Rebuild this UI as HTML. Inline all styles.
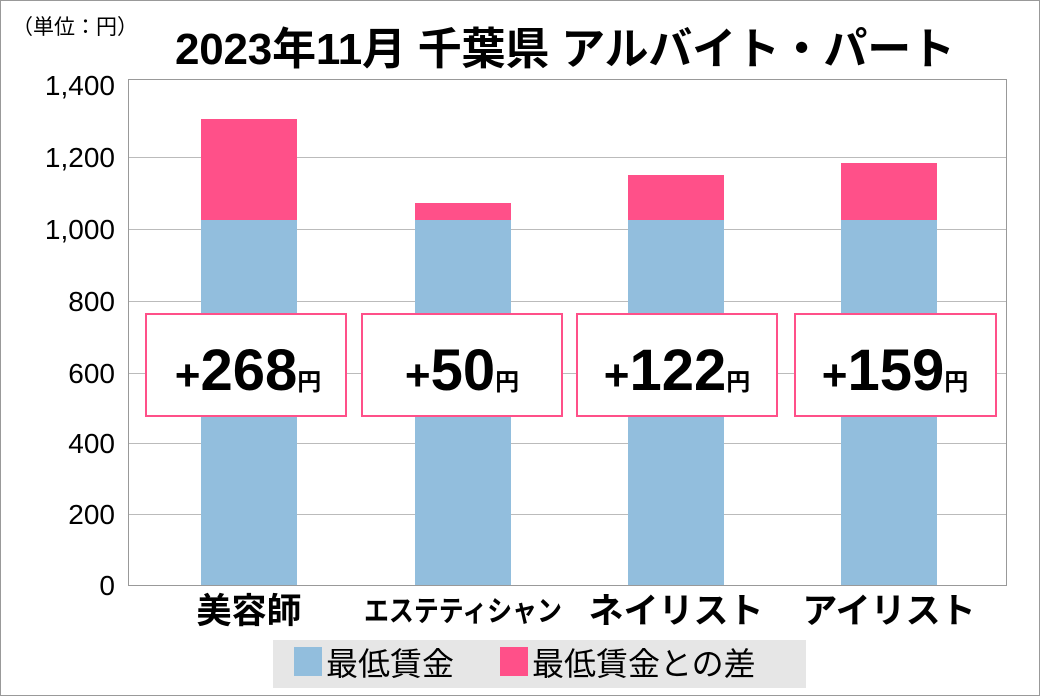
<!DOCTYPE html>
<html><head><meta charset="utf-8"><style>
html,body{margin:0;padding:0;background:#fff}
svg{display:block}
text{font-family:"Liberation Sans","Noto Sans CJK JP",sans-serif}
</style></head><body>
<svg width="1040" height="696" viewBox="0 0 1040 696" xmlns="http://www.w3.org/2000/svg">
<rect x="0.5" y="0.5" width="1039" height="695" fill="#fff" stroke="#999"/>
<text x="12" y="34" font-size="21" fill="#000">（単位：円）</text>
<text x="565" y="64" font-size="44" font-weight="bold" text-anchor="middle" textLength="780" lengthAdjust="spacing">2023年11月 千葉県 アルバイト・パート</text>
<rect x="128.5" y="79.5" width="878" height="506" fill="#fff" stroke="#999"/>
<g stroke="#bbb" stroke-width="1">
<line x1="129" y1="157.5" x2="1006" y2="157.5"/>
<line x1="129" y1="229.5" x2="1006" y2="229.5"/>
<line x1="129" y1="301.5" x2="1006" y2="301.5"/>
<line x1="129" y1="373.5" x2="1006" y2="373.5"/>
<line x1="129" y1="443.5" x2="1006" y2="443.5"/>
<line x1="129" y1="514.5" x2="1006" y2="514.5"/>
</g>
<g font-size="28" text-anchor="end" fill="#000">
<text x="115" y="95">1,400</text>
<text x="115" y="167">1,200</text>
<text x="115" y="239">1,000</text>
<text x="115" y="311">800</text>
<text x="115" y="383">600</text>
<text x="115" y="453">400</text>
<text x="115" y="524">200</text>
<text x="115" y="595">0</text>
</g>
<g fill="#92bedd">
<rect x="201" y="220" width="96" height="365"/>
<rect x="415" y="220" width="96" height="365"/>
<rect x="628" y="220" width="96" height="365"/>
<rect x="841" y="220" width="96" height="365"/>
</g>
<g fill="#ff5089">
<rect x="201" y="119" width="96" height="101"/>
<rect x="415" y="203" width="96" height="17"/>
<rect x="628" y="175" width="96" height="45"/>
<rect x="841" y="163" width="96" height="57"/>
</g>
<g fill="#fff" stroke="#ff5089" stroke-width="2">
<rect x="146" y="314" width="200" height="102"/>
<rect x="362" y="314" width="200" height="102"/>
<rect x="577" y="314" width="200" height="102"/>
<rect x="795" y="314" width="201" height="102"/>
</g>
<g font-weight="bold" text-anchor="middle" fill="#000">
<text x="248" y="390" font-size="58"><tspan font-size="44">+</tspan>268<tspan font-size="24">円</tspan></text>
<text x="462" y="390" font-size="58"><tspan font-size="44">+</tspan>50<tspan font-size="24">円</tspan></text>
<text x="677" y="390" font-size="58"><tspan font-size="44">+</tspan>122<tspan font-size="24">円</tspan></text>
<text x="895" y="390" font-size="58"><tspan font-size="44">+</tspan>159<tspan font-size="24">円</tspan></text>
</g>
<g font-size="35" font-weight="bold" text-anchor="middle" fill="#000">
<text x="249" y="623">美容師</text>
<text x="463" y="621" font-size="29" textLength="198" lengthAdjust="spacingAndGlyphs">エステティシャン</text>
<text x="676" y="623">ネイリスト</text>
<text x="889" y="623">アイリスト</text>
</g>
<rect x="273" y="640" width="533" height="48" fill="#e6e6e6"/>
<rect x="294" y="647" width="28" height="29" fill="#92bedd"/>
<rect x="500" y="647" width="28" height="29" fill="#ff5089"/>
<text x="326" y="675" font-size="32" fill="#000">最低賃金</text>
<text x="532" y="675" font-size="32" fill="#000">最低賃金との差</text>
</svg>
</body></html>
